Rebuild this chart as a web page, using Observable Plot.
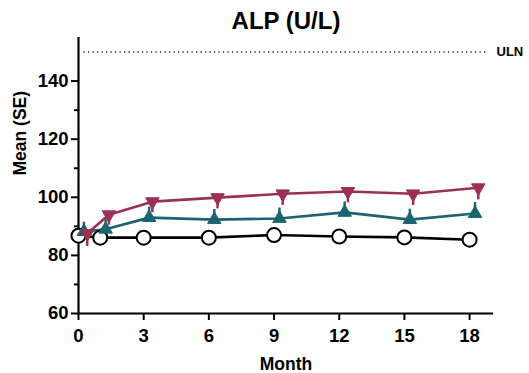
<!DOCTYPE html>
<html><head><meta charset="utf-8">
<script src="https://cdn.jsdelivr.net/npm/d3@7"></script>
<script src="https://cdn.jsdelivr.net/npm/@observablehq/plot@0.6"></script>
<style>body{margin:0;background:#fff;font-family:"Liberation Sans",Arial,sans-serif}</style>
</head><body><div id="chart"></div>
<script>
const months = [0, 1, 3, 6, 9, 12, 15, 18];
const seriesNames = ["Placebo", "Low", "High"];
const placeboMean = [86.8, 86.1, 86.1, 86.1, 87.0, 86.5, 86.2, 85.4];
const lowMean = [88.2, 89.0, 93.0, 92.3, 92.7, 94.8, 92.3, 94.4];
const lowSE = [3.2, 3.3, 3.6, 3.5, 3.6, 3.6, 3.6, 3.8];
const highMean = [87.5, 94.0, 98.5, 99.9, 101.2, 102.0, 101.2, 103.3];
const highSE = [4.4, 3.6, 3.8, 3.9, 4.0, 3.9, 4.0, 4.2];
const xOffset = [0, 0.25, 0.4];
const uln = 150;
const yTicks = [60, 80, 100, 120, 140];
const yMinor = [70, 90, 110, 130];
const xTicks = [0, 3, 6, 9, 12, 15, 18];

const colors = {Placebo: "#000000", Low: "#1b6470", High: "#9b3056"};
const rows = [];
months.forEach((m, i) => {
  rows.push({s: "Placebo", x: m + xOffset[0], y: placeboMean[i], lo: placeboMean[i], hi: placeboMean[i]});
  rows.push({s: "Low", x: m + xOffset[1], y: lowMean[i], lo: lowMean[i], hi: lowMean[i] + lowSE[i]});
  rows.push({s: "High", x: m + xOffset[2], y: highMean[i], lo: highMean[i] - highSE[i], hi: highMean[i]});
});
const bySeries = s => rows.filter(r => r.s === s);
const font = "Liberation Sans, Arial, sans-serif";

const plot = Plot.plot({
  width: 529, height: 373,
  marginLeft: 78, marginRight: 36, marginTop: 37, marginBottom: 60,
  style: {fontFamily: font, background: "#fff", color: "#000"},
  x: {domain: [0, 19.1], axis: null},
  y: {domain: [60, 155], axis: null},
  marks: [
    Plot.ruleY([uln], {x1: 0.25, x2: 18.8, stroke: "#000", strokeWidth: 1.3, strokeDasharray: "1.3,3.2"}),
    Plot.text(["ULN"], {x: 19.1, y: uln, text: d => d, dx: 3, textAnchor: "start", fontWeight: "bold", fontSize: 13, fill: "#000"}),
    Plot.axisY({ticks: yTicks, tickSize: 7, tickPadding: 3, fontSize: 18.5, fontWeight: "bold", stroke: "#000", strokeWidth: 2, strokeOpacity: 1, label: null, color: "#000"}),
    Plot.axisY({ticks: yMinor, tickSize: 4, tickFormat: () => "", stroke: "#000", strokeWidth: 2, strokeOpacity: 1, label: null}),
    Plot.axisX({ticks: xTicks, tickSize: 7, tickPadding: 8, fontSize: 18.5, fontWeight: "bold", stroke: "#000", strokeWidth: 2, strokeOpacity: 1, label: null, color: "#000"}),
    Plot.ruleX([0], {stroke: "#000", strokeWidth: 2.2}),
    Plot.ruleY([60], {x1: 0, x2: 19.1, stroke: "#000", strokeWidth: 2.2}),
    ...["Placebo", "Low", "High"].map(s => Plot.ruleX(bySeries(s).filter(r => r.lo !== r.hi), {x: "x", y1: "lo", y2: "hi", stroke: colors[s], strokeWidth: 2.5})),
    ...["Placebo", "Low", "High"].map(s => Plot.line(bySeries(s), {x: "x", y: "y", stroke: colors[s], strokeWidth: 2.6})),
    Plot.dot(bySeries("Placebo"), {x: "x", y: "y", r: 7, symbol: "circle", fill: "#fff", stroke: "#000", strokeWidth: 2}),
    Plot.dot(bySeries("Low"), {x: "x", y: "y", r: 5, symbol: "triangle", fill: colors.Low, stroke: colors.Low, strokeWidth: 1}),
    Plot.dot(bySeries("High"), {x: "x", y: "y", r: 5, symbol: "triangle", rotate: 180, fill: colors.High, stroke: colors.High, strokeWidth: 1}),
    Plot.text(["ALP (U/L)"], {frameAnchor: "top", dy: -26, x: 9.55, text: d => d, fontSize: 24, fontWeight: "bold", fill: "#000"}),
    Plot.text(["Month"], {frameAnchor: "bottom", x: 9.55, dy: 56, text: d => d, fontSize: 17.5, fontWeight: "bold", fill: "#000"}),
    Plot.text(["Mean (SE)"], {frameAnchor: "left", y: 107.5, dx: -58, rotate: -90, text: d => d, fontSize: 17.5, fontWeight: "bold", fill: "#000"})
  ]
});
document.getElementById("chart").appendChild(plot);
</script></body></html>
